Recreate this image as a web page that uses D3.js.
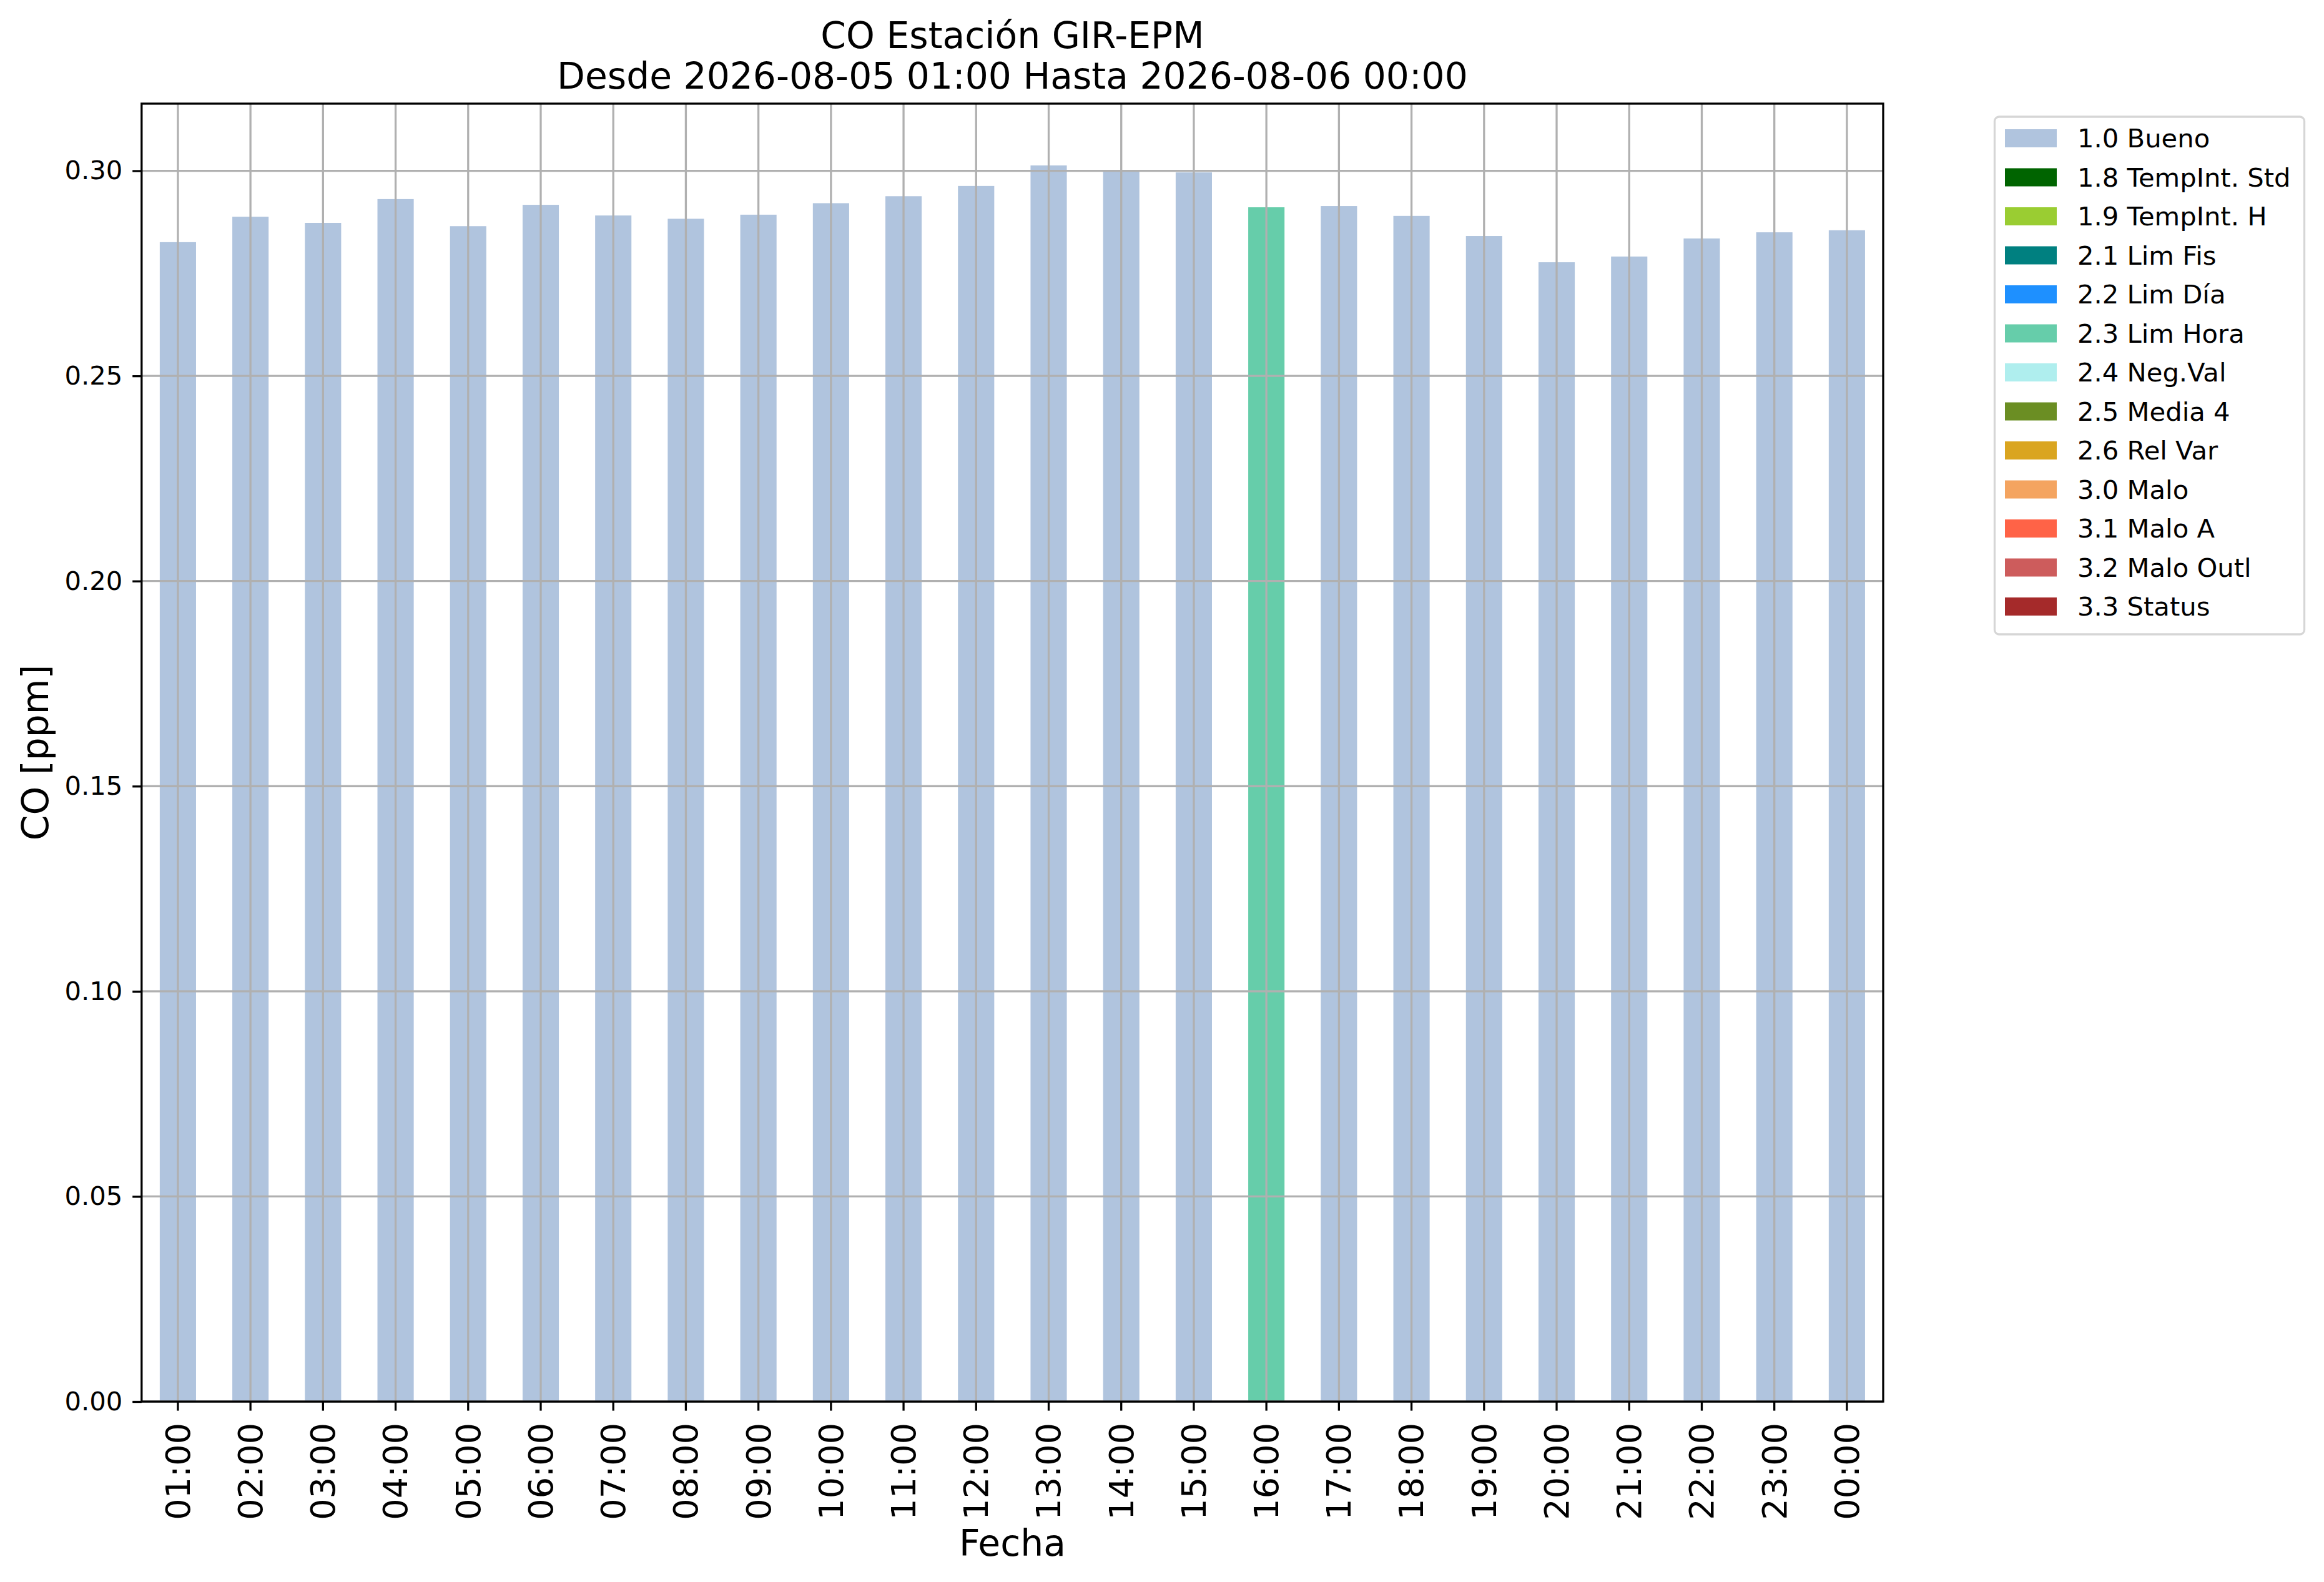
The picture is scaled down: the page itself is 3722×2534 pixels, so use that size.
<!DOCTYPE html>
<html>
<head>
<meta charset="utf-8">
<script src="https://cdn.jsdelivr.net/npm/d3@7/dist/d3.min.js"></script>
<style>
  body { margin: 0; background: #fff; }
  text { font-family: "DejaVu Sans", sans-serif; fill: #000; }
</style>
</head>
<body>
<svg id="chart"></svg>
<script>
// data
var hours = ["01:00","02:00","03:00","04:00","05:00","06:00","07:00","08:00","09:00","10:00","11:00","12:00",
             "13:00","14:00","15:00","16:00","17:00","18:00","19:00","20:00","21:00","22:00","23:00","00:00"]
var coValues = [0.2826,0.2888,0.2873,0.2931,0.2865,0.2917,0.2891,0.2883,0.2893,0.2921,0.2938,0.2963,
                0.3013,0.3000,0.2996,0.2911,0.2914,0.2890,0.2841,0.2777,0.2791,0.2835,0.2850,0.2855]
var hourFlags = ["1.0 Bueno","1.0 Bueno","1.0 Bueno","1.0 Bueno","1.0 Bueno","1.0 Bueno","1.0 Bueno","1.0 Bueno",
                 "1.0 Bueno","1.0 Bueno","1.0 Bueno","1.0 Bueno","1.0 Bueno","1.0 Bueno","1.0 Bueno","2.3 Lim Hora",
                 "1.0 Bueno","1.0 Bueno","1.0 Bueno","1.0 Bueno","1.0 Bueno","1.0 Bueno","1.0 Bueno","1.0 Bueno"]
var flagNames = ["1.0 Bueno","1.8 TempInt. Std","1.9 TempInt. H","2.1 Lim Fis","2.2 Lim Día","2.3 Lim Hora",
                 "2.4 Neg.Val","2.5 Media 4","2.6 Rel Var","3.0 Malo","3.1 Malo A","3.2 Malo Outl","3.3 Status"]
var flagColors = ["#b0c4de","#006400","#9acd32","#008080","#1e90ff","#66cdaa",
                  "#afeeee","#6b8e23","#daa520","#f4a460","#ff6347","#cd5c5c","#a52a2a"]
var yTicks = [0.00,0.05,0.10,0.15,0.20,0.25,0.30]

var width = 3722,
    height = 2534
var plotLeft = 226.8, plotRight = 3016, plotTop = 166, plotBottom = 2245
var lw = 3.3

var svg = d3.select("#chart")
    .attr("width", width)
    .attr("height", height)

var color = d3.scaleOrdinal().domain(flagNames).range(flagColors)

var x = d3.scaleBand().domain(hours).range([plotLeft, plotRight]).padding(0)
var y = d3.scaleLinear().domain([0, d3.max(coValues) * 1.05]).range([plotBottom, plotTop])

var rows = hours.map(function(h, i){ return {hour: h, value: coValues[i], flag: hourFlags[i]} })

// bars
svg.append("g").selectAll("rect").data(rows)
    .enter()
    .append("rect")
    .attr("x", function(d){ return x(d.hour) + x.bandwidth() * 0.25 })
    .attr("y", function(d){ return y(d.value) })
    .attr("width", x.bandwidth() * 0.5)
    .attr("height", function(d){ return y(0) - y(d.value) })
    .attr("fill", function(d){ return color(d.flag) })

// grid (drawn over the bars, like the original)
var grid = svg.append("g")
grid.selectAll(".vg").data(hours).enter().append("line")
    .attr("x1", function(d){ return x(d) + x.bandwidth() / 2 })
    .attr("x2", function(d){ return x(d) + x.bandwidth() / 2 })
    .attr("y1", plotTop).attr("y2", plotBottom)
    .style("stroke", "#b0b0b0").style("stroke-width", lw)
grid.selectAll(".hg").data(yTicks).enter().append("line")
    .attr("x1", plotLeft).attr("x2", plotRight)
    .attr("y1", function(d){ return y(d) }).attr("y2", function(d){ return y(d) })
    .style("stroke", "#b0b0b0").style("stroke-width", lw)

// axes
var yAxis = svg.append("g")
    .attr("transform", "translate(" + plotLeft + ",0)")
    .call(d3.axisLeft(y).tickValues(yTicks).tickFormat(d3.format(".2f")).tickSize(14.6).tickSizeOuter(0).tickPadding(16))
yAxis.select(".domain").remove()
yAxis.selectAll("line").style("stroke", "#000").style("stroke-width", lw)
yAxis.selectAll("text").style("font-size", "41.7px").style("font-family", "DejaVu Sans")

var xAxis = svg.append("g")
    .attr("transform", "translate(0," + plotBottom + ")")
    .call(d3.axisBottom(x).tickSize(14.6).tickSizeOuter(0))
xAxis.select(".domain").remove()
xAxis.selectAll("line").style("stroke", "#000").style("stroke-width", lw)
xAxis.selectAll("text")
    .attr("transform", "rotate(-90)")
    .attr("x", -34)
    .attr("y", 0)
    .attr("dy", "0.35em")
    .style("text-anchor", "end")
    .style("font-size", "54px")
    .style("font-family", "DejaVu Sans")

// frame
svg.append("rect")
    .attr("x", plotLeft).attr("y", plotTop)
    .attr("width", plotRight - plotLeft).attr("height", plotBottom - plotTop)
    .attr("fill", "none")
    .style("stroke", "#000").style("stroke-width", lw)

// titles and labels
var cx = (plotLeft + plotRight) / 2
var title = svg.append("text")
    .attr("text-anchor", "middle")
    .style("font-size", "58.3px")
title.append("tspan").attr("x", cx).attr("y", 76.7).text("CO Estación GIR-EPM")
title.append("tspan").attr("x", cx).attr("y", 141.7).text("Desde 2026-08-05 01:00 Hasta 2026-08-06 00:00")

svg.append("text")
    .attr("x", cx)
    .attr("y", 2491.7)
    .attr("text-anchor", "middle")
    .style("font-size", "58.3px")
    .text("Fecha")

svg.append("text")
    .attr("transform", "translate(77," + ((plotTop + plotBottom) / 2) + ") rotate(-90)")
    .attr("text-anchor", "middle")
    .style("font-size", "58.3px")
    .text("CO [ppm]")

// legend
var legend = svg.append("g")
legend.append("rect")
    .attr("x", 3194.5).attr("y", 187)
    .attr("width", 496).attr("height", 829)
    .attr("rx", 7).attr("ry", 7)
    .attr("fill", "#fff")
    .style("stroke", "#d6d6d6").style("stroke-width", lw)

var rowH = 62.5
legend.selectAll(".lp").data(flagNames).enter().append("rect")
    .attr("x", 3211)
    .attr("y", function(d, i){ return 207 + i * rowH })
    .attr("width", 83)
    .attr("height", 29)
    .attr("fill", function(d){ return color(d) })
legend.selectAll(".lt").data(flagNames).enter().append("text")
    .attr("x", 3327)
    .attr("y", function(d, i){ return 236 + i * rowH })
    .style("font-size", "41.7px")
    .text(function(d){ return d })
</script>
</body>
</html>
